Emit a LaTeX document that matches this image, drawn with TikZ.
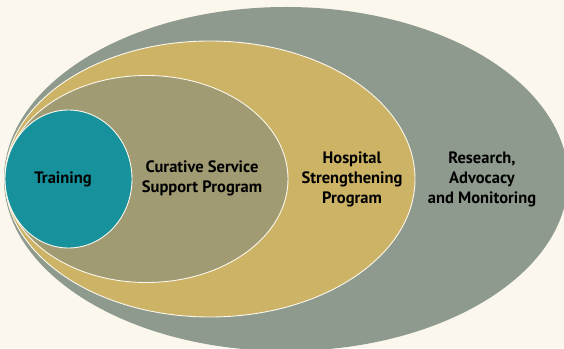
\documentclass[tikz,border=0pt]{standalone}
\usepackage{fontspec}
\setmainfont{PT Sans}
\usetikzlibrary{shapes.geometric}

\definecolor{paper}{HTML}{FBF7EC}
\definecolor{sage}{HTML}{8E9A8E}
\definecolor{gold}{HTML}{CDB366}
\definecolor{olive}{HTML}{A09B72}
\definecolor{teal}{HTML}{17919C}

\begin{document}
\begin{tikzpicture}[x=1pt, y=1pt,
        ring/.style={ellipse, inner sep=0pt, draw=paper, line width=0.9pt},
        caption/.style={align=center, text=black, font=\bfseries\fontsize{16.5}{20}\selectfont}]
     \fill[paper] (0,0) rectangle (564,348);
     \useasboundingbox (0,0) rectangle (564,348);
     \clip (0,0) rectangle (564,348);
     \node (research) at (286,169) [ring, fill=sage, draw=none, minimum width=564, minimum height=344] {};
     \node (hospital) at (210,169) [ring, fill=gold, minimum width=410, minimum height=276] {};
     \node (curative) at (146.5,169) [ring, fill=olive, minimum width=283, minimum height=207] {};
     \node (training) at (68.5,169) [ring, fill=teal, minimum width=127, minimum height=138] {};
      \node (trainingtxt) at (63,169) [caption] {Training};
      \node (curativetxt) at (202,170) [caption] {Curative Service\\Support Program};
      \node (hospitaltxt) at (352,169) [caption] {Hospital\\Strengthening\\Program};
      \node (researchtxt) at (482,169) [caption] {Research,\\Advocacy\\and Monitoring};
    \end{tikzpicture}
\end{document}
